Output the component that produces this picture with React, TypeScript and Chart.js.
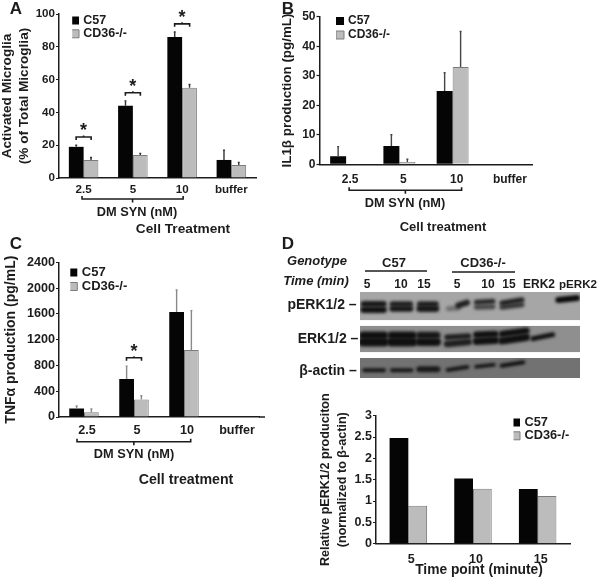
import React, { useEffect, useRef } from "react";
import { Chart, registerables } from "chart.js";

Chart.register(...registerables);

const FONT = '"Liberation Sans", Arial, sans-serif';
const INK = "#1c1c1c";
const BLACK_BAR = "#050505";
const GREY_BAR = "#bcbcbc";
const GREY_EDGE = "#7c7c7c";
const SERIES_NAMES = ["C57", "CD36-/-"];

// Panel A
const catsA = ["2.5", "5", "10", "buffer"];
const c57A = [19, 44, 86, 11];
const cd36A = [11, 14, 55, 8];
const c57TopA = [20, 47, 89, 17];
const cd36TopA = [12.5, 15, 57, 9.5];
const sigA = [{ group: 0, value: 25 }, { group: 1, value: 52 }, { group: 2, value: 94 }];

// Panel B
const catsB = ["2.5", "5", "10", "buffer"];
const c57B = [2.7, 6.2, 24.8, null];
const cd36B = [null, 0.8, 33, null];
const c57TopB = [6, 10, 31, null];
const cd36TopB = [null, 1.7, 45, null];

// Panel C
const catsC = ["2.5", "5", "10", "buffer"];
const c57C = [130, 590, 1630, null];
const cd36C = [75, 270, 1040, null];
const c57TopC = [170, 790, 1970, null];
const cd36TopC = [125, 330, 1650, null];
const sigC = [{ group: 1, value: 920 }];

// Panel D chart
const catsD = ["5", "10", "15"];
const c57D = [2.48, 1.53, 1.28];
const cd36D = [0.89, 1.29, 1.12];

// Western blot stand-in: [x0, x1, yStart, yEnd, thickness, alpha], in crop units
const blotRows = [
  { y0: 12, y1: 97, fill: "#a6a6a6" },
  { y0: 113, y1: 193, fill: "#8f8f8f" },
  { y0: 210, y1: 270, fill: "#727272" },
];
const blotBands = [
  [26, 86, 48, 48, 12, 0.9], [26, 86, 65, 65, 13, 0.95],
  [112, 166, 48, 48, 11, 0.85], [112, 166, 62, 62, 12, 0.9],
  [194, 243, 48, 48, 11, 0.85], [194, 243, 62, 62, 13, 0.9],
  [280, 310, 62, 60, 10, 0.35], [310, 336, 52, 44, 12, 0.85],
  [364, 414, 43, 40, 10, 0.8], [364, 414, 58, 56, 10, 0.6],
  [441, 501, 45, 35, 10, 0.85], [441, 501, 58, 50, 10, 0.7],
  [610, 666, 36, 30, 12, 1],
  [24, 88, 142, 142, 15, 0.95], [24, 88, 162, 162, 18, 0.95],
  [109, 174, 142, 142, 15, 0.95], [109, 174, 162, 162, 18, 0.95],
  [194, 246, 142, 142, 14, 0.9], [194, 246, 162, 162, 16, 0.95],
  [276, 341, 148, 144, 11, 0.85], [276, 341, 168, 162, 13, 0.85],
  [364, 421, 140, 138, 13, 0.95], [364, 421, 160, 157, 15, 0.95],
  [441, 514, 138, 128, 13, 0.95], [441, 514, 158, 148, 15, 0.95],
  [534, 593, 152, 140, 10, 0.95],
  [28, 87, 247, 247, 8, 0.9], [111, 169, 247, 247, 8, 0.9],
  [193, 247, 244, 244, 12, 0.85], [278, 337, 246, 237, 8, 0.9],
  [363, 417, 236, 230, 7, 0.95], [440, 505, 233, 223, 8, 0.95],
];

// DOM text notes: text, center x, center y, font size, italic
const notes: [string, number, number, number, boolean?][] = [
  ["A", 16, 8, 17], ["B", 288, 8, 17], ["C", 16, 243, 17], ["D", 288, 243, 17],
  ["DM SYN (nM)", 137, 212, 12.8], ["Cell Treatment", 183, 229, 13.7],
  ["DM SYN (nM)", 405, 203, 12.8], ["Cell treatment", 443, 226, 13],
  ["DM SYN (nM)", 134, 454, 12.8], ["Cell treatment", 186, 479, 14.2],
  ["Genotype", 317, 260, 13, true], ["Time (min)", 316, 280, 13, true],
  ["C57", 394, 262, 13], ["CD36-/-", 483, 262, 13],
  ["5", 367, 284, 12], ["10", 401, 284, 12], ["15", 424, 284, 12],
  ["5", 457, 284, 12], ["10", 488, 284, 12], ["15", 509, 284, 12],
  ["ERK2", 539, 284, 12], ["pERK2", 578, 284, 11.6],
  ["pERK1/2 –", 322, 304, 14], ["ERK1/2 –", 328, 338, 14], ["β-actin –", 328, 370, 14],
  ["Time point (minute)", 479, 570, 13.8],
];
const headerRules = [[365, 427, 271], [452, 515, 272]];

type Panel = {
  cats: string[]; a: (number | null)[]; b: (number | null)[];
  topA?: (number | null)[]; topB?: (number | null)[];
  area: { l: number; r: number; t: number; b: number };
  max: number; step: number; catPct: number;
  tickFont: number; tickPad: number; labelOffset: number;
  title: string[]; titleFont: number; titleX: number; titleLH: number;
  legend: { x: number; y: number; font: number; pad: number };
  errColor: string; sig?: { group: number; value: number }[];
  dm?: { d0: number; d1: number; dy: number }; ext?: number;
};

const panels: Panel[] = [
  {
    cats: catsA, a: c57A, b: cd36A, topA: c57TopA, topB: cd36TopA,
    area: { l: 59, r: 256, t: 14, b: 178 }, max: 100, step: 20, catPct: 0.6,
    tickFont: 11.6, tickPad: 5, labelOffset: 0,
    title: ["Activated Microglia", "(% of Total Microglia)"], titleFont: 13.6, titleX: 7, titleLH: 17,
    legend: { x: 75, y: 20.5, font: 12.5, pad: 0.8 }, errColor: "#333333", sig: sigA,
    dm: { d0: -1.6, d1: 1, dy: 21 },
  },
  {
    cats: catsB, a: c57B, b: cd36B, topA: c57TopB, topB: cd36TopB,
    area: { l: 319.5, r: 532.5, t: 16.7, b: 164.3 }, max: 50, step: 10, catPct: 0.6,
    tickFont: 12, tickPad: 8, labelOffset: 4,
    title: ["IL1β production (pg/mL)"], titleFont: 13.4, titleX: 287, titleLH: 16,
    legend: { x: 340, y: 21, font: 12, pad: 2 }, errColor: "#444444",
    dm: { d0: 3, d1: 9, dy: 26 },
  },
  {
    cats: catsC, a: c57C, b: cd36C, topA: c57TopC, topB: cd36TopC,
    area: { l: 59, r: 259, t: 262.3, b: 417 }, max: 2400, step: 400, catPct: 0.59,
    tickFont: 12.6, tickPad: 6, labelOffset: 3,
    title: ["TNFα production (pg/mL)"], titleFont: 14, titleX: 11, titleLH: 17,
    legend: { x: 73.3, y: 272.5, font: 13, pad: 1 }, errColor: "#8a8a8a", sig: sigC,
    dm: { d0: -7, d1: 6.7, dy: 24.7 }, ext: 6,
  },
  {
    cats: catsD, a: c57D, b: cd36D,
    area: { l: 376, r: 570, t: 415.7, b: 543.7 }, max: 3, step: 0.5, catPct: 0.58,
    tickFont: 12.5, tickPad: 8, labelOffset: 3,
    title: ["Relative pERK1/2 produciton", "(normalized to β-actin)"], titleFont: 12.6, titleX: 326, titleLH: 17,
    legend: { x: 516, y: 422.5, font: 12.8, pad: 0.5 }, errColor: "#333333",
  },
];

const extras = {
  id: "extras",
  afterLayout(chart: any, _a: any, o: any) {
    const p: Panel = o.panel;
    const lg = chart.legend;
    const pad = p.legend.pad;
    lg.left = p.legend.x - pad - 2;
    lg.top = p.legend.y - pad - p.legend.font / 2;
    lg.right = lg.left + 200;
    lg.bottom = lg.top + 100;
  },
  afterDatasetsDraw(chart: any, _a: any, o: any) {
    const p: Panel = o.panel;
    const ctx = chart.ctx;
    const y = chart.scales.y;
    ctx.save();
    ctx.strokeStyle = p.errColor;
    ctx.lineWidth = 1.4;
    [p.topA, p.topB].forEach((tops, i) => {
      if (!tops) return;
      chart.getDatasetMeta(i).data.forEach((el: any, k: number) => {
        const t = tops[k];
        if (t == null) return;
        const py = y.getPixelForValue(t);
        ctx.beginPath();
        ctx.moveTo(el.x, el.y);
        ctx.lineTo(el.x, py);
        ctx.moveTo(el.x - 1, py);
        ctx.lineTo(el.x + 1, py);
        ctx.stroke();
      });
    });
    ctx.restore();
  },
  afterDraw(chart: any, _a: any, o: any) {
    const p: Panel = o.panel;
    const ctx = chart.ctx;
    const { x, y } = chart.scales;
    ctx.save();
    ctx.strokeStyle = INK;
    ctx.fillStyle = INK;
    if (p.ext) {
      ctx.lineWidth = 1.5;
      ctx.beginPath();
      ctx.moveTo(chart.chartArea.right, chart.chartArea.bottom);
      ctx.lineTo(chart.chartArea.right + p.ext, chart.chartArea.bottom);
      ctx.stroke();
    }
    (p.sig || []).forEach((s) => {
      const c = x.getPixelForValue(s.group);
      const py = y.getPixelForValue(s.value);
      const half = 7.5;
      ctx.lineWidth = 1.6;
      ctx.beginPath();
      ctx.moveTo(c - half, py + 3);
      ctx.lineTo(c - half, py);
      ctx.lineTo(c + half, py);
      ctx.lineTo(c + half, py + 3);
      ctx.moveTo(c, py);
      ctx.lineTo(c, py - 1.5);
      ctx.stroke();
      ctx.font = `bold 18px ${FONT}`;
      ctx.textAlign = "center";
      ctx.textBaseline = "middle";
      ctx.fillText("*", c, py - 6);
    });
    if (p.dm) {
      const x0 = x.getPixelForValue(0) + p.dm.d0;
      const x1 = x.getPixelForValue(2) + p.dm.d1;
      const py = chart.chartArea.bottom + p.dm.dy;
      ctx.lineWidth = 1.6;
      ctx.beginPath();
      ctx.moveTo(x0, py - 3);
      ctx.lineTo(x0, py);
      ctx.lineTo(x1, py);
      ctx.lineTo(x1, py - 3);
      ctx.moveTo((x0 + x1) / 2, py);
      ctx.lineTo((x0 + x1) / 2, py + 3.5);
      ctx.stroke();
    }
    ctx.restore();
  },
};

function configFor(p: Panel): any {
  const { l, r, t, b } = p.area;
  return {
    type: "bar",
    data: {
      labels: p.cats,
      datasets: [
        { label: SERIES_NAMES[0], data: p.a, backgroundColor: BLACK_BAR, borderColor: BLACK_BAR, borderWidth: 0 },
        { label: SERIES_NAMES[1], data: p.b, backgroundColor: GREY_BAR, borderColor: GREY_EDGE, borderWidth: 1 },
      ],
    },
    options: {
      animation: false,
      responsive: false,
      devicePixelRatio: 1,
      layout: { padding: { left: 0, top: t, right: 600 - r, bottom: 577 - b - 24 } },
      plugins: {
        tooltip: { enabled: false },
        extras: { panel: p },
        legend: {
          display: true,
          position: "chartArea",
          align: "start",
          onClick: null,
          labels: {
            usePointStyle: true,
            pointStyle: "rect",
            boxWidth: 4,
            boxHeight: 8,
            padding: p.legend.pad,
            color: INK,
            font: { family: FONT, size: p.legend.font, weight: "bold", lineHeight: 1 },
          },
        },
      },
      scales: {
        x: {
          type: "category",
          offset: true,
          afterFit: (s: any) => { s.height = 24; },
          grid: { display: false, drawTicks: false },
          border: { display: true, color: INK, width: 1.5 },
          ticks: {
            autoSkip: false, maxRotation: 0, minRotation: 0,
            padding: p.tickPad, labelOffset: p.labelOffset, color: INK,
            font: { family: FONT, size: p.tickFont, weight: "bold" },
          },
        },
        y: {
          min: 0, max: p.max,
          afterFit: (s: any) => { s.width = l; },
          grid: { drawOnChartArea: false, drawTicks: true, tickLength: 3, tickColor: INK, tickWidth: 1.2 },
          border: { display: true, color: INK, width: 1.5 },
          ticks: {
            stepSize: p.step, padding: 1, color: INK,
            callback: (v: number) => String(v),
            font: { family: FONT, size: p.tickFont, weight: "bold" },
          },
          title: {
            display: true,
            text: p.title,
            color: INK,
            padding: { top: p.titleX - p.titleLH / 2, bottom: 0 },
            font: { family: FONT, size: p.titleFont, weight: "bold", lineHeight: p.titleLH / p.titleFont },
          },
        },
      },
      barPercentage: 1,
      categoryPercentage: p.catPct,
    },
    plugins: [extras],
  };
}

function drawBlot(cv: HTMLCanvasElement) {
  const ctx = cv.getContext("2d")!;
  const X = (v: number) => 355 + v / 3;
  const Y = (v: number) => 288 + v / 3;
  ctx.clearRect(0, 0, 600, 577);
  blotRows.forEach((row) => {
    ctx.save();
    ctx.beginPath();
    ctx.rect(X(15), Y(row.y0), 220, (row.y1 - row.y0) / 3);
    ctx.clip();
    ctx.fillStyle = row.fill;
    ctx.fillRect(X(15), Y(row.y0), 220, (row.y1 - row.y0) / 3);
    ctx.filter = "blur(1.5px)";
    ctx.lineCap = "round";
    blotBands.forEach(([x0, x1, y0, y1, th, al]) => {
      if (y0 < row.y0 || y0 > row.y1) return;
      ctx.strokeStyle = `rgba(10,10,10,${al})`;
      ctx.lineWidth = (th * 1.5) / 3;
      ctx.beginPath();
      ctx.moveTo(X(x0), Y(y0));
      ctx.lineTo(X(x1), Y(y1));
      ctx.stroke();
    });
    ctx.restore();
  });
  ctx.strokeStyle = INK;
  ctx.lineWidth = 1.5;
  headerRules.forEach(([a, b, y]) => {
    ctx.beginPath();
    ctx.moveTo(a, y);
    ctx.lineTo(b, y);
    ctx.stroke();
  });
}

function PanelChart({ panel }: { panel: Panel }) {
  const ref = useRef<HTMLCanvasElement>(null);
  useEffect(() => {
    const chart = new Chart(ref.current!, configFor(panel));
    return () => chart.destroy();
  }, [panel]);
  return (
    <canvas ref={ref} width={600} height={577}
      style={{ position: "absolute", left: 0, top: 0, width: 600, height: 577 }} />
  );
}

export default function App() {
  const blot = useRef<HTMLCanvasElement>(null);
  useEffect(() => { drawBlot(blot.current!); }, []);
  return (
    <div style={{ position: "absolute", left: 0, top: 0, width: 600, height: 577, background: "#fff", overflow: "hidden", filter: "blur(0.6px)" }}>
      <canvas ref={blot} width={600} height={577}
        style={{ position: "absolute", left: 0, top: 0, width: 600, height: 577 }} />
      {panels.map((p, i) => <PanelChart key={i} panel={p} />)}
      {notes.map(([text, x, y, size, italic], i) => (
        <div key={i} style={{
          position: "absolute", left: x, top: y, transform: "translate(-50%,-50%)",
          whiteSpace: "nowrap", fontFamily: FONT, fontWeight: "bold", fontSize: size,
          fontStyle: italic ? "italic" : "normal", color: INK, lineHeight: 1,
        }}>{text}</div>
      ))}
    </div>
  );
}
